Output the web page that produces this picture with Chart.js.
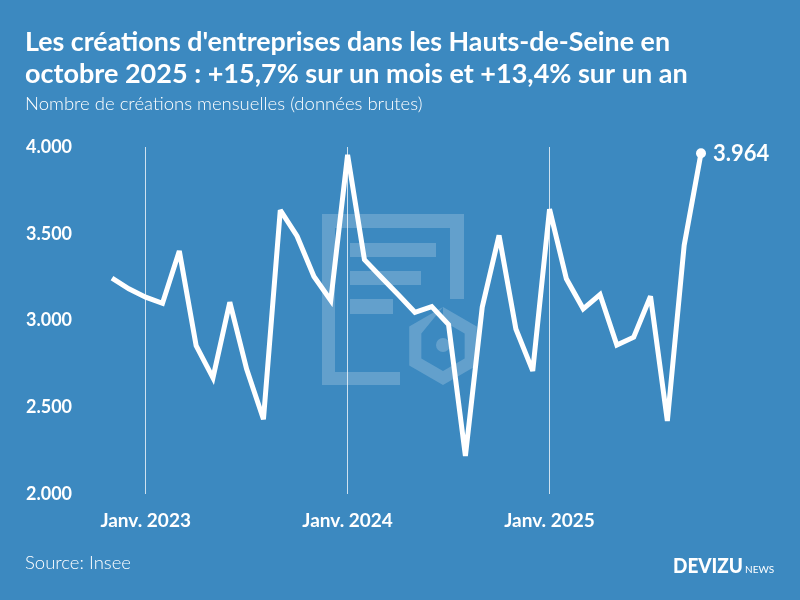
<!DOCTYPE html>
<html lang="fr">
<head>
<meta charset="utf-8">
<title>Créations d'entreprises - Hauts-de-Seine</title>
<script src="https://cdn.jsdelivr.net/npm/chart.js@4.4.1/dist/chart.umd.min.js"></script>
<style>
  html, body { margin: 0; padding: 0; background: #3c89c0; }
  canvas { display: block; }
</style>
</head>
<body>
<canvas id="myChart" width="800" height="600"></canvas>
<script>
// mois de nov. 2022 à oct. 2025
var mois = [
  "nov. 2022", "déc. 2022",
  "janv. 2023", "févr. 2023", "mars 2023", "avr. 2023", "mai 2023", "juin 2023",
  "juil. 2023", "août 2023", "sept. 2023", "oct. 2023", "nov. 2023", "déc. 2023",
  "janv. 2024", "févr. 2024", "mars 2024", "avr. 2024", "mai 2024", "juin 2024",
  "juil. 2024", "août 2024", "sept. 2024", "oct. 2024", "nov. 2024", "déc. 2024",
  "janv. 2025", "févr. 2025", "mars 2025", "avr. 2025", "mai 2025", "juin 2025",
  "juil. 2025", "août 2025", "sept. 2025", "oct. 2025"
];
// nombre de créations mensuelles
var creations = [
  3245, 3183,
  3135, 3100, 3401, 2855, 2670, 3106, 2721, 2432, 3636, 3486, 3254, 3116,
  3955, 3351, 3250, 3150, 3048, 3081, 2977, 2220, 3077, 3491, 2952, 2710,
  3642, 3241, 3068, 3150, 2859, 2904, 3140, 2422, 3434, 3964
];
var yTicks = [2000, 2500, 3000, 3500, 4000];

var titre = [
  "Les créations d'entreprises dans les Hauts-de-Seine en",
  "octobre 2025 : +15,7% sur un mois et +13,4% sur un an"
];
var sousTitre = "Nombre de créations mensuelles (données brutes)";
var source = "Source: Insee";

var bg = "#3c89c0";

function formatNombre(v) {
  return String(v).replace(/\B(?=(\d{3})+(?!\d))/g, ".");
}

// fond, filigrane, titres et pied de page
var decor = {
  id: "decor",
  beforeDraw(chart) {
    var ctx = chart.ctx;
    ctx.save();
    ctx.fillStyle = bg;
    ctx.fillRect(0, 0, chart.width, chart.height);

    // filigrane
    ctx.fillStyle = "rgba(255,255,255,0.2)";
    ctx.fillRect(322, 214, 13, 171);
    ctx.fillRect(335, 214, 129, 14);
    ctx.fillRect(450, 228, 14, 71);
    ctx.fillRect(335, 372, 65, 13);
    ctx.fillRect(350, 243, 86, 14);
    ctx.fillRect(350, 271, 71, 14);
    ctx.fillRect(350, 299, 43, 15);
    ctx.beginPath();
    for (var i = 0; i < 6; i++) {
      var a = -Math.PI / 2 + i * Math.PI / 3;
      ctx.lineTo(443 + 39 * Math.cos(a), 346 + 39 * Math.sin(a));
    }
    ctx.closePath();
    for (var j = 0; j < 6; j++) {
      var b = -Math.PI / 2 + j * Math.PI / 3;
      ctx.lineTo(443 + 25 * Math.cos(b), 346 + 25 * Math.sin(b));
    }
    ctx.closePath();
    ctx.fill("evenodd");
    ctx.beginPath();
    ctx.arc(443, 345, 7, 0, Math.PI * 2);
    ctx.fill();

    // titres
    ctx.fillStyle = "#ffffff";
    ctx.textAlign = "left";
    ctx.textBaseline = "alphabetic";
    ctx.font = "bold 27px Lato";
    ctx.fillText(titre[0], 25, 51, 645);
    ctx.fillText(titre[1], 25, 83, 672);
    ctx.font = "300 18.5px Lato";
    ctx.fillText(sousTitre, 25, 110);

    // pied de page
    ctx.fillText(source, 25, 569);
    ctx.font = "900 21px Lato";
    ctx.fillText("DEVIZU", 673, 573, 70);
    ctx.font = "10px Lato";
    ctx.fillText("NEWS", 745, 573, 31);
    ctx.restore();
  },
  beforeDatasetsDraw(chart) {
    // pointes moins longues aux angles aigus
    chart.ctx.miterLimit = 3;
  },
  afterDatasetsDraw(chart) {
    // étiquette de la dernière valeur
    var meta = chart.getDatasetMeta(0);
    var last = meta.data[meta.data.length - 1];
    var ctx = chart.ctx;
    ctx.save();
    ctx.fillStyle = "#ffffff";
    ctx.font = "bold 22px Lato";
    ctx.textAlign = "left";
    ctx.textBaseline = "middle";
    ctx.fillText(formatNombre(creations[creations.length - 1]), last.x + 12, last.y + 1);
    ctx.restore();
  }
};

new Chart("myChart", {
  type: "line",
  data: {
    labels: mois,
    datasets: [{
      data: creations,
      borderColor: "#ffffff",
      backgroundColor: "#ffffff",
      borderWidth: 5,
      borderJoinStyle: "miter",
      tension: 0,
      fill: false,
      clip: false,
      pointRadius: creations.map((v, i) => (i === creations.length - 1 ? 5 : 0)),
      pointHoverRadius: 0,
      pointBorderWidth: 0
    }]
  },
  options: {
    responsive: false,
    devicePixelRatio: 1,
    animation: false,
    events: [],
    layout: { padding: { top: 147, left: 26, right: 99, bottom: 53 } },
    plugins: {
      legend: { display: false },
      title: { display: false },
      tooltip: { enabled: false }
    },
    scales: {
      x: {
        offset: false,
        border: { display: false },
        grid: {
          drawTicks: false,
          lineWidth: 1,
          color: (c) => (c.tick && mois[c.index] && mois[c.index].indexOf("janv.") === 0
            ? "rgba(255,255,255,0.75)" : "rgba(0,0,0,0)")
        },
        ticks: {
          autoSkip: false,
          maxRotation: 0,
          padding: 15,
          color: "#ffffff",
          font: { family: "Lato", size: 19, weight: "bold" },
          callback: (v, i) => (mois[i].indexOf("janv.") === 0 ? "Janv." + mois[i].slice(5) : "")
        }
      },
      y: {
        min: 2000,
        max: 4000,
        border: { display: false },
        grid: { display: false },
        afterBuildTicks: (s) => { s.ticks = yTicks.map((v) => ({ value: v })); },
        afterFit: (s) => { s.width = 86; },
        ticks: {
          crossAlign: "far",
          color: "#ffffff",
          font: { family: "Lato", size: 18, weight: "bold" },
          callback: (v) => formatNombre(v)
        }
      }
    }
  },
  plugins: [decor]
});
</script>
</body>
</html>
